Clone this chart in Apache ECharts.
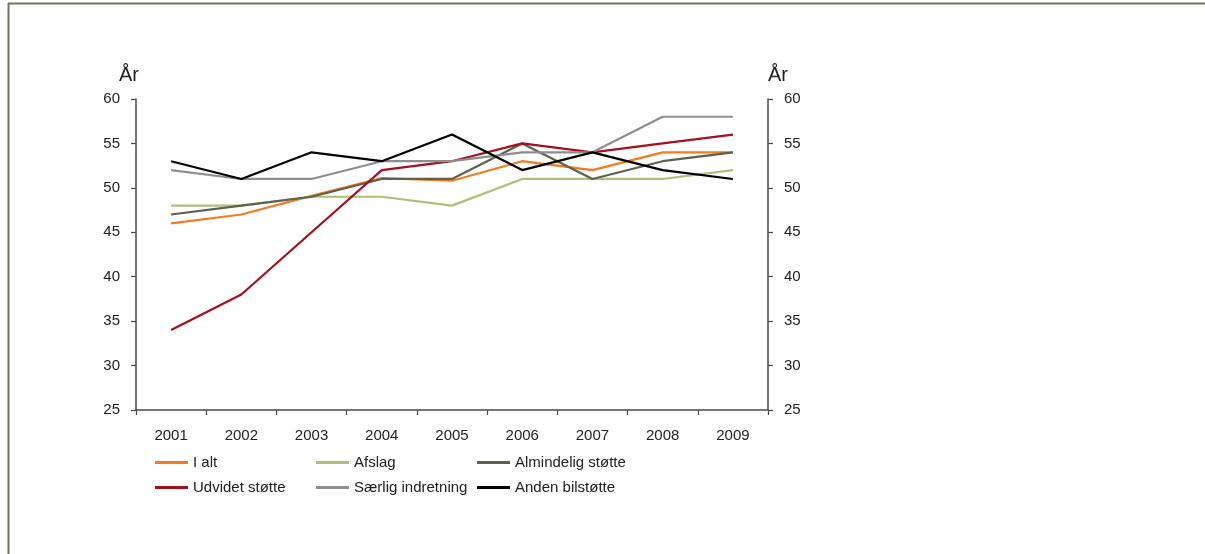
<!DOCTYPE html>
<html>
<head>
<meta charset="utf-8">
<script src="https://cdn.jsdelivr.net/npm/echarts@6/dist/echarts.min.js"></script>
<style>
html,body{margin:0;padding:0;background:#fff;}
#c{width:1205px;height:554px;}
</style>
</head>
<body>
<div id="c"></div>
<script>
const years = ['2001','2002','2003','2004','2005','2006','2007','2008','2009'];
const iAlt = [46, 47, 49.1, 51.1, 50.8, 53, 52, 54, 54];
const afslag = [48, 48, 49, 49, 48, 51, 51, 51, 52];
const almindelig = [47, 48, 49, 51, 51, 55, 51, 53, 54];
const udvidet = [34, 38, 45, 52, 53, 55, 54, 55, 56];
const saerlig = [52, 51, 51, 53, 53, 54, 54, 58, 58];
const anden = [53, 51, 54, 53, 56, 52, 54, 52, 51];
const yTicks = [25, 30, 35, 40, 45, 50, 55, 60];

const names = ['I alt','Afslag','Almindelig støtte','Udvidet støtte','Særlig indretning','Anden bilstøtte'];
const colors = ['#F47B20','#AEBF78','#5E624C','#A6101E','#8E8E8E','#000000'];
const datas = [iAlt, afslag, almindelig, udvidet, saerlig, anden];

const font = '"Liberation Sans", Arial, sans-serif';
const axisColor = '#4a4a4a';

const yAxisCommon = {
  type: 'value', min: yTicks[0], max: yTicks[yTicks.length-1], interval: 5,
  axisLine: {show: true, lineStyle: {color: axisColor, width: 1.5}},
  axisTick: {show: true, length: 5, lineStyle: {color: axisColor, width: 1.2}},
  splitLine: {show: false},
  axisLabel: {color: '#222', fontSize: 15, fontFamily: font, margin: 16},
  name: 'År', nameLocation: 'end', nameGap: 14,
};

const chart = echarts.init(document.getElementById('c'), null, {renderer: 'canvas'});
chart.setOption({
  animation: false,
  backgroundColor: '#fff',
  color: colors,
  grid: {left: 136, right: 437, top: 99, bottom: 144, containLabel: false},
  xAxis: {
    type: 'category', data: years, boundaryGap: true,
    axisLine: {lineStyle: {color: axisColor, width: 1.5}},
    axisTick: {show: true, alignWithLabel: false, length: 5, lineStyle: {color: axisColor, width: 1.2}},
    axisLabel: {color: '#222', fontSize: 15, fontFamily: font, margin: 18, interval: 0}
  },
  yAxis: [
    Object.assign({}, yAxisCommon, {position: 'left',
      nameTextStyle: {fontSize: 20, color: '#222', fontFamily: font, align: 'right', verticalAlign: 'bottom', padding: [0, -3, 0, 0]}}),
    Object.assign({}, yAxisCommon, {position: 'right',
      nameTextStyle: {fontSize: 20, color: '#222', fontFamily: font, align: 'left', verticalAlign: 'bottom', padding: [0, 0, 0, 0]}})
  ],
  legend: {
    left: 155, top: 454, width: 500, padding: 0,
    orient: 'horizontal',
    itemWidth: 33, itemHeight: 3, itemGap: 8,
    icon: 'rect',
    data: names,
    textStyle: {fontSize: 15, color: '#222', fontFamily: font, width: 115, overflow: 'none', lineHeight: 17}
  },
  series: datas.map((d, i) => ({
    name: names[i], type: 'line', data: d, yAxisIndex: 0,
    symbol: 'none', smooth: false,
    lineStyle: {width: 2.2, color: colors[i]},
    itemStyle: {color: colors[i]},
    z: 2 + i
  })),
  graphic: [
    {type: 'line', shape: {x1: 8, y1: 3.5, x2: 1205, y2: 3.5}, style: {stroke: '#70745F', lineWidth: 2}},
    {type: 'line', shape: {x1: 8.5, y1: 3, x2: 8.5, y2: 554}, style: {stroke: '#70745F', lineWidth: 2}}
  ]
});
</script>
</body>
</html>
